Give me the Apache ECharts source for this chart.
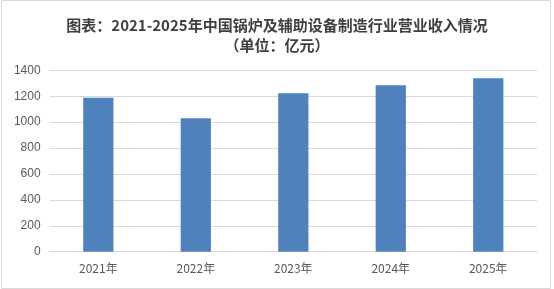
<!DOCTYPE html>
<html><head><meta charset="utf-8">
<script src="https://cdn.jsdelivr.net/npm/echarts@6/dist/echarts.min.js"></script>
<style>html,body{margin:0;padding:0;background:#fff}#c{width:554px;height:289px}</style>
</head><body><div id="c"></div>
<script>
const categories = ['2021年','2022年','2023年','2024年','2025年'];
const revenue = [1189, 1030, 1223, 1285, 1339];
const yTicks = [0,200,400,600,800,1000,1200,1400];

const chart = echarts.init(document.getElementById('c'), null, {renderer:'canvas'});
chart.setOption({
  animation:false,
  backgroundColor:'#fff',
  title:{
    text:'图表：2021-2025年中国锅炉及辅助设备制造行业营业收入情况\n（单位：亿元）',
    left:'center', top:10,
    textStyle:{fontFamily:'"Noto Sans CJK SC", sans-serif', fontSize:15, fontWeight:'bold', color:'#404040', lineHeight:20}
  },
  graphic:[{type:'rect', shape:{x:1.5,y:0.5,width:549,height:288}, style:{fill:null, stroke:'#d9d9d9', lineWidth:1}, silent:true}],
  grid:{left:49.6, right:17, top:70.3, bottom:37.3, containLabel:false},
  xAxis:{type:'category', data:categories,
    axisLine:{lineStyle:{color:'#d9d9d9'}}, axisTick:{show:false},
    axisLabel:{color:'#595959', fontSize:12, margin:11, fontFamily:'"Noto Sans CJK SC", sans-serif'}},
  yAxis:{type:'value', min:yTicks[0], max:yTicks[yTicks.length-1], interval:200,
    axisLine:{show:false}, axisTick:{show:false},
    splitLine:{lineStyle:{color:'#d9d9d9'}},
    axisLabel:{color:'#595959', fontSize:12, margin:9, formatter:v=>String(v), fontFamily:'"Liberation Sans", Arial, sans-serif'}},
  series:[{type:'bar', data:revenue, barWidth:'31%', itemStyle:{color:'#4f81bd'}}]
});
</script></body></html>
